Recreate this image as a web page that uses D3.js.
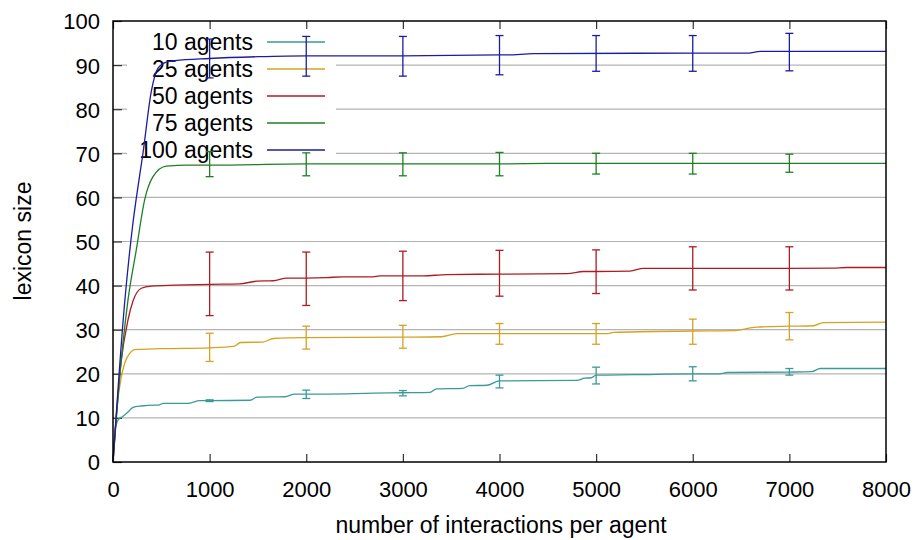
<!DOCTYPE html>
<html>
<head>
<meta charset="utf-8">
<script src="https://cdn.jsdelivr.net/npm/d3@7"></script>
<style>
  html, body { margin: 0; padding: 0; background: #fff; }
  svg { display: block; }
  text { font-family: "Liberation Sans", Arial, sans-serif; fill: #000; }
</style>
</head>
<body>
<svg id="chart" width="918" height="540"></svg>
<script>
// Lexicon size against interactions per agent, one series per population size.
const seriesNames = ["10 agents", "25 agents", "50 agents", "75 agents", "100 agents"];
const seriesColors = ["#3a9a98", "#d6a224", "#ac1c20", "#1f7f22", "#1c1ca2"];

const xTicks = [0, 1000, 2000, 3000, 4000, 5000, 6000, 7000, 8000];
const yTicks = [0, 10, 20, 30, 40, 50, 60, 70, 80, 90, 100];

// Curves: interaction counts and mean lexicon size
const x10 = [0, 20, 55, 100, 150, 207, 293, 431, 470, 520, 770, 900, 1000, 1420, 1490, 1780, 1880, 2000, 2700, 3000, 3280, 3350, 3620, 3690, 3870, 4000, 4800, 4880, 4950, 5000, 5400, 6000, 6280, 6360, 7000, 7230, 7320, 8000];
const y10 = [0, 7, 9.6, 10.3, 11.2, 12.4, 12.7, 12.9, 12.9, 13.3, 13.3, 13.9, 13.9, 14.0, 14.7, 14.8, 15.4, 15.4, 15.6, 15.7, 15.8, 16.6, 16.7, 17.3, 17.4, 18.4, 18.5, 19.0, 19.1, 19.7, 19.8, 20.0, 20.0, 20.3, 20.4, 20.5, 21.2, 21.2];

const x25 = [0, 40, 86, 121, 172, 224, 500, 1000, 1250, 1320, 1550, 1660, 2000, 3000, 3400, 3560, 4000, 5000, 5110, 5180, 6000, 6420, 6660, 7000, 7250, 7350, 8000];
const y25 = [0, 12, 19.3, 22.4, 24.6, 25.5, 25.7, 25.9, 26.2, 27.1, 27.2, 28.0, 28.2, 28.3, 28.4, 29.1, 29.1, 29.1, 29.1, 29.4, 29.7, 29.8, 30.6, 30.8, 30.9, 31.6, 31.7];

const x50 = [0, 80, 155, 207, 293, 396, 639, 1000, 1310, 1490, 1660, 1800, 2000, 2210, 2380, 2690, 2760, 3000, 3210, 3450, 4000, 4700, 4870, 5000, 5350, 5490, 7000, 7450, 7590, 8000];
const y50 = [0, 22, 32.2, 36.5, 39.4, 39.9, 40.1, 40.3, 40.4, 41.0, 41.1, 41.7, 41.7, 41.8, 42.0, 42.0, 42.2, 42.2, 42.2, 42.5, 42.6, 42.7, 43.2, 43.2, 43.3, 43.9, 43.9, 43.95, 44.1, 44.1];

const x75 = [0, 60, 155, 241, 327, 414, 552, 776, 1000, 2000, 3000, 4000, 4500, 8000];
const y75 = [0, 17, 36.7, 48.1, 59.4, 64.7, 67.1, 67.3, 67.3, 67.6, 67.6, 67.6, 67.7, 67.7];

const x100 = [0, 120, 200, 276, 310, 396, 466, 552, 639, 1000, 1500, 2000, 3000, 4000, 4080, 4350, 6000, 6560, 6700, 8000];
const y100 = [0, 36, 53, 65, 70, 84, 89.3, 90.7, 91.0, 91.5, 91.9, 92.1, 92.1, 92.3, 92.3, 92.6, 92.7, 92.7, 93.1, 93.1];

// Error bars at every 1000 interactions: lower and upper bounds
const errX = [1000, 2000, 3000, 4000, 5000, 6000, 7000];
const low10 = [13.7, 14.4, 15.0, 16.8, 17.7, 18.4, 19.7];
const high10 = [14.1, 16.3, 16.2, 19.7, 21.5, 21.6, 21.2];
const low25 = [22.8, 25.6, 25.8, 26.7, 26.7, 26.7, 27.7];
const high25 = [29.2, 30.8, 31.0, 31.4, 31.4, 32.4, 33.9];
const low50 = [33.2, 35.5, 36.6, 37.6, 38.2, 39.0, 39.0];
const high50 = [47.6, 47.6, 47.8, 48.0, 48.1, 48.8, 48.8];
const low75 = [64.7, 64.9, 64.9, 64.9, 65.3, 65.3, 65.7];
const high75 = [70.4, 70.1, 70.1, 70.2, 70.0, 70.0, 69.8];
const low100 = [87.1, 87.5, 87.5, 87.8, 88.6, 88.6, 88.7];
const high100 = [95.9, 96.5, 96.5, 96.7, 96.7, 96.7, 97.2];

const curveX = [x10, x25, x50, x75, x100];
const curveY = [y10, y25, y50, y75, y100];
const errLow = [low10, low25, low50, low75, low100];
const errHigh = [high10, high25, high50, high75, high100];

const svg = d3.select("#chart");
const plot = { left: 113, right: 886, top: 21, bottom: 462 };

const x = d3.scaleLinear().domain([0, 8000]).range([plot.left, plot.right]);
const y = d3.scaleLinear().domain([0, 100]).range([plot.bottom, plot.top]);

// Horizontal grid
svg.append("g")
  .selectAll("line")
  .data(yTicks.slice(1, -1))
  .join("line")
  .attr("x1", plot.left).attr("x2", plot.right)
  .attr("y1", d => y(d)).attr("y2", d => y(d))
  .attr("stroke", "#b4b4b4").attr("stroke-width", 1.2);

// Key area is opaque over the grid
svg.append("rect")
  .attr("x", 127).attr("y", 28).attr("width", 209).attr("height", 136)
  .attr("fill", "#fff");

// Axes with inward ticks
const tickFont = 22;
const wordFont = 23;
const bottomAxis = d3.axisBottom(x).tickValues(xTicks).tickSize(-8).tickPadding(19).tickFormat(d3.format("d"));
const leftAxis = d3.axisLeft(y).tickValues(yTicks).tickSize(-9).tickPadding(13).tickFormat(d3.format("d"));
const topAxis = d3.axisTop(x).tickValues(xTicks).tickSize(-8).tickFormat("");

function styleAxis(g) {
  g.select(".domain").remove();
  g.selectAll(".tick line").attr("stroke", "#333").attr("stroke-width", 1.2);
  g.selectAll(".tick text")
    .attr("font-size", tickFont)
    .attr("font-family", "Liberation Sans, Arial, sans-serif")
    .attr("fill", "#000");
}

svg.append("g").attr("transform", `translate(0,${plot.bottom})`).call(bottomAxis).call(styleAxis);
svg.append("g").attr("transform", `translate(${plot.left},0)`).call(leftAxis).call(styleAxis)
  .selectAll(".tick text").attr("dy", "0.36em");
svg.append("g").attr("transform", `translate(0,${plot.top})`).call(topAxis).call(styleAxis);

// Key
const key = svg.append("g");
seriesNames.forEach((name, i) => {
  const cy = 42 + i * 27;
  key.append("text")
    .attr("x", 253).attr("y", cy).attr("dy", "0.36em")
    .attr("text-anchor", "end").attr("font-size", wordFont)
    .text(name);
  key.append("line")
    .attr("x1", 267).attr("x2", 325).attr("y1", cy).attr("y2", cy)
    .attr("stroke", seriesColors[i]).attr("stroke-width", 1.3);
});

// Curves
const line = d3.line().x(d => x(d[0])).y(d => y(d[1])).curve(d3.curveMonotoneX);
curveX.forEach((xs, i) => {
  const pts = xs.map((v, j) => [v, curveY[i][j]]);
  svg.append("path")
    .datum(pts)
    .attr("d", line)
    .attr("fill", "none")
    .attr("stroke", seriesColors[i])
    .attr("stroke-width", 1.3);
});

// Error bars with caps
const cap = 4;
errX.forEach((xv, j) => {
  errLow.forEach((lows, i) => {
    const g = svg.append("g").attr("stroke", seriesColors[i]).attr("stroke-width", 1.3);
    const px = x(xv), y0 = y(lows[j]), y1 = y(errHigh[i][j]);
    g.append("line").attr("x1", px).attr("x2", px).attr("y1", y0).attr("y2", y1);
    g.append("line").attr("x1", px - cap).attr("x2", px + cap).attr("y1", y0).attr("y2", y0);
    g.append("line").attr("x1", px - cap).attr("x2", px + cap).attr("y1", y1).attr("y2", y1);
  });
});

// Frame
svg.append("rect")
  .attr("x", plot.left).attr("y", plot.top)
  .attr("width", plot.right - plot.left).attr("height", plot.bottom - plot.top)
  .attr("fill", "none").attr("stroke", "#000").attr("stroke-width", 1.5);

// Axis titles
svg.append("text")
  .attr("x", 501).attr("y", 533)
  .attr("text-anchor", "middle").attr("font-size", wordFont)
  .text("number of interactions per agent");
svg.append("text")
  .attr("transform", "translate(31,241) rotate(-90)")
  .attr("text-anchor", "middle").attr("font-size", wordFont)
  .text("lexicon size");
</script>
</body>
</html>
